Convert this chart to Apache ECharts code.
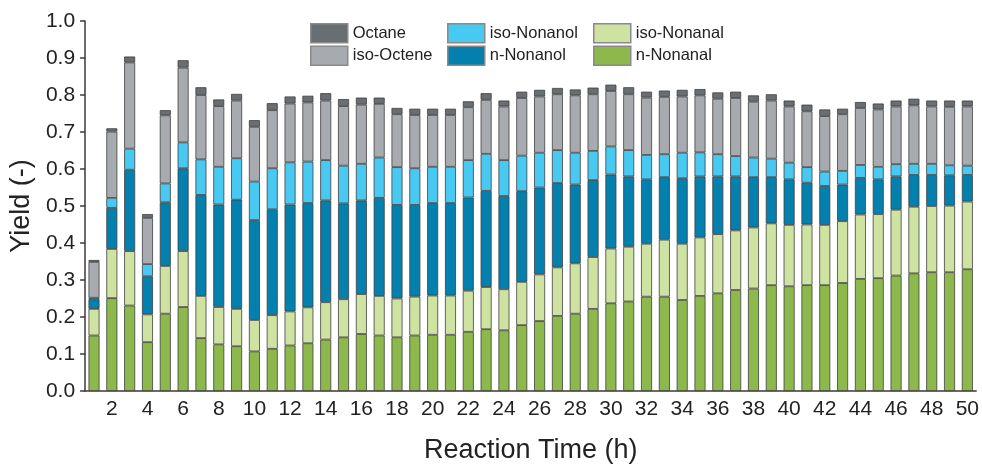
<!DOCTYPE html>
<html>
<head>
<meta charset="utf-8">
<script src="https://cdn.jsdelivr.net/npm/echarts@6/dist/echarts.min.js"></script>
<style>
html,body{margin:0;padding:0;background:#fff;}
#chart{width:982px;height:469px;}
</style>
</head>
<body>
<div id="chart"></div>
<script>
const hours = ['1','2','3','4','5','6','7','8','9','10','11','12','13','14','15','16','17','18','19','20','21','22','23','24','25','26','27','28','29','30','31','32','33','34','35','36','37','38','39','40','41','42','43','44','45','46','47','48','49','50'];

const nNonanal = [0.150,0.251,0.231,0.132,0.209,0.227,0.143,0.126,0.121,0.107,0.114,0.123,0.129,0.139,0.145,0.154,0.150,0.145,0.150,0.152,0.152,0.160,0.167,0.164,0.178,0.189,0.203,0.209,0.222,0.237,0.242,0.255,0.255,0.246,0.257,0.264,0.273,0.277,0.286,0.283,0.286,0.286,0.292,0.303,0.305,0.312,0.318,0.321,0.321,0.329];
const isoNonanal = [0.072,0.133,0.147,0.075,0.129,0.151,0.114,0.101,0.101,0.085,0.091,0.092,0.097,0.101,0.103,0.108,0.107,0.105,0.105,0.106,0.106,0.111,0.114,0.111,0.117,0.126,0.131,0.136,0.140,0.148,0.148,0.143,0.154,0.152,0.158,0.160,0.161,0.165,0.167,0.166,0.164,0.163,0.167,0.174,0.173,0.178,0.180,0.179,0.180,0.183];
const nNonanol = [0.026,0.111,0.220,0.103,0.172,0.224,0.273,0.277,0.295,0.270,0.286,0.289,0.282,0.275,0.259,0.253,0.265,0.253,0.248,0.250,0.250,0.252,0.260,0.252,0.245,0.235,0.228,0.213,0.208,0.200,0.190,0.174,0.169,0.177,0.165,0.156,0.146,0.136,0.125,0.123,0.113,0.105,0.099,0.099,0.094,0.090,0.086,0.084,0.082,0.072];
const isoNonanol = [0.004,0.027,0.057,0.033,0.051,0.070,0.096,0.102,0.112,0.104,0.111,0.114,0.112,0.109,0.102,0.099,0.109,0.102,0.099,0.098,0.098,0.101,0.100,0.097,0.096,0.094,0.089,0.086,0.079,0.076,0.071,0.066,0.062,0.069,0.065,0.060,0.055,0.053,0.050,0.045,0.042,0.039,0.037,0.035,0.034,0.033,0.030,0.030,0.027,0.025];
const isoOctene = [0.097,0.179,0.233,0.125,0.184,0.202,0.174,0.164,0.156,0.148,0.157,0.159,0.160,0.161,0.161,0.160,0.145,0.143,0.144,0.140,0.140,0.143,0.146,0.145,0.156,0.152,0.151,0.155,0.153,0.150,0.151,0.155,0.155,0.152,0.154,0.150,0.157,0.151,0.157,0.152,0.151,0.150,0.153,0.154,0.155,0.156,0.158,0.155,0.158,0.160];
const octane = [0.005,0.009,0.016,0.010,0.014,0.020,0.021,0.018,0.018,0.018,0.019,0.019,0.018,0.020,0.019,0.019,0.017,0.017,0.017,0.017,0.017,0.016,0.018,0.016,0.017,0.018,0.017,0.016,0.018,0.017,0.019,0.016,0.017,0.018,0.017,0.017,0.017,0.017,0.017,0.016,0.018,0.018,0.015,0.016,0.016,0.016,0.018,0.016,0.017,0.016];

const seriesNames = ['n-Nonanal','iso-Nonanal','n-Nonanol','iso-Nonanol','iso-Octene','Octane'];
const seriesData = [nNonanal, isoNonanal, nNonanol, isoNonanol, isoOctene, octane];
const seriesColors = ['#8cb84c','#cee3a2','#0380ae','#48c9f2','#a7abaf','#686e71'];

const font = "'Liberation Sans', Arial, sans-serif";

const chart = echarts.init(document.getElementById('chart'), null, {renderer: 'canvas'});

const legendBase = {
  orient: 'vertical', top: 23, padding: 0, itemGap: 2,
  itemWidth: 37, itemHeight: 19, icon: 'rect',
  textStyle: {fontSize: 16.5, fontFamily: font, color: '#222', lineHeight: 19},
  itemStyle: {borderColor: '#8a8a8a', borderWidth: 1.5},
  selectedMode: false
};

chart.setOption({
  animation: false,
  backgroundColor: '#fff',
  grid: {left: 82, right: 5, top: 21, bottom: 69, containLabel: false},
  legend: [
    Object.assign({}, legendBase, {left: 310, data: ['Octane','iso-Octene']}),
    Object.assign({}, legendBase, {left: 447, data: ['iso-Nonanol','n-Nonanol']}),
    Object.assign({}, legendBase, {left: 593, data: ['iso-Nonanal','n-Nonanal']})
  ],
  xAxis: {
    type: 'category',
    data: hours,
    name: 'Reaction Time (h)',
    nameLocation: 'middle',
    nameGap: 46,
    nameTextStyle: {fontSize: 27, fontFamily: font, color: '#222'},
    axisLine: {lineStyle: {color: '#3a3a3a', width: 1.5}},
    axisTick: {alignWithLabel: true, length: 5, interval: (i) => i % 2 === 1, lineStyle: {color: '#3a3a3a', width: 1.5}},
    axisLabel: {interval: (i) => i % 2 === 1, fontSize: 21, fontFamily: font, color: '#222', margin: 8},
    splitLine: {show: false}
  },
  yAxis: {
    type: 'value',
    min: 0, max: 1, interval: 0.1,
    name: 'Yield (-)',
    nameLocation: 'middle',
    nameGap: 47,
    nameRotate: 90,
    nameTextStyle: {fontSize: 27, fontFamily: font, color: '#222'},
    axisLine: {show: true, lineStyle: {color: '#3a3a3a', width: 1.5}},
    axisTick: {show: true, length: 5, lineStyle: {color: '#3a3a3a', width: 1.5}},
    axisLabel: {fontSize: 21, fontFamily: font, color: '#222', margin: 10, formatter: (v) => v.toFixed(1)},
    splitLine: {show: false}
  },
  series: seriesNames.map((name, k) => ({
    name: name,
    type: 'bar',
    stack: 'total',
    barWidth: 11,
    data: seriesData[k],
    itemStyle: {color: seriesColors[k], borderColor: '#404040', borderWidth: 0.8}
  }))
});
</script>
</body>
</html>
